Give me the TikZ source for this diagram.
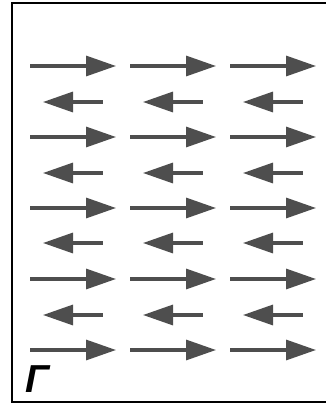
\documentclass[tikz,border=0pt]{standalone}
\usepackage{fontspec}
\usepackage{tikz}
\usetikzlibrary{arrows.meta}
\newfontfamily\panelfont{Liberation Sans}
\definecolor{arrgray}{RGB}{78,78,78}
\tikzset{
  frame/.style={draw=black, line width=2pt},
  rarr/.style={arrgray, line width=3.2pt, -{Triangle[length=30pt, width=20pt]}},
  larr/.style={arrgray, line width=3.2pt, {Triangle[length=30pt, width=20pt]}-},
  panel/.style={font=\panelfont\bfseries\itshape\fontsize{39}{39}\selectfont,
                inner sep=0pt, anchor=base west},
}
\begin{document}
\begin{tikzpicture}[x=1pt, y=-1pt]
  \useasboundingbox (0,0) rectangle (326,405);
  % frame, right side runs off the picture
  \draw[frame] (326,3) -- (12,3) -- (12,402) -- (326,402);
  % rows pointing right
  \foreach \y in {66,137,208,279,350}
    \foreach \c in {0,100,200}
      \draw[rarr] (30+\c,\y) -- (116+\c,\y);
  % rows pointing left
  \foreach \y in {102,173,243,315}
    \foreach \c in {0,100,200}
      \draw[larr] (43+\c,\y) -- (103+\c,\y);
  \node[panel] (lbl) at (25,392) {Г};
\end{tikzpicture}
\end{document}
